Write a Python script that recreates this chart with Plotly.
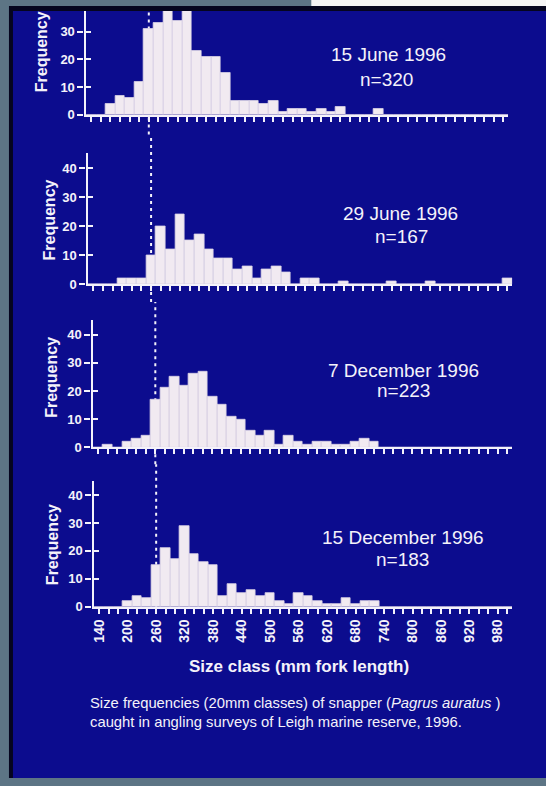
import plotly.graph_objects as go

# ---------------- data ----------------
size_classes = [140, 160, 180, 200, 220, 240, 260, 280, 300, 320,
                340, 360, 380, 400, 420, 440, 460, 480, 500, 520,
                540, 560, 580, 600, 620, 640, 660, 680, 700, 720,
                740, 760, 780, 800, 820, 840, 860, 880, 900, 920,
                940, 960, 980, 1000]

tick_values = [140, 200, 260, 320, 380, 440, 500, 560, 620, 680, 740, 800, 860, 920, 980]
tick_labels = ["140", "200", "260", "320", "380", "440", "500", "560",
               "620", "680", "740", "800", "860", "920", "980"]

freq_15jun = [0, 0, 4, 7, 6, 12, 31, 33, 39, 34,
              38, 23, 21, 21, 15, 5, 5, 5, 4, 5,
              1, 2, 2, 1, 2, 1, 3, 0, 0, 0,
              2, 0, 0, 0, 0, 0, 0, 0, 0, 0,
              0, 0, 0, 0]
freq_29jun = [0, 0, 0, 2, 2, 2, 10, 20, 12, 24,
              15, 17, 12, 9, 9, 5, 6, 2, 5, 6,
              4, 0, 2, 2, 0, 0, 1, 0, 0, 0,
              0, 1, 0, 0, 0, 1, 0, 0, 0, 0,
              0, 0, 0, 2]
freq_7dec = [0, 1, 0, 2, 3, 4, 17, 21, 25, 22,
             26, 27, 18, 15, 11, 10, 6, 4, 6, 1,
             4, 2, 1, 2, 2, 1, 1, 2, 3, 2,
             0, 0, 0, 0, 0, 0, 0, 0, 0, 0,
             0, 0, 0, 0]
freq_15dec = [0, 0, 0, 2, 4, 3, 15, 21, 17, 29,
              19, 16, 15, 4, 8, 5, 6, 4, 5, 2,
              1, 5, 4, 2, 1, 1, 3, 1, 2, 2,
              0, 0, 0, 0, 0, 0, 0, 0, 0, 0,
              0, 0, 0, 0]

series = [freq_15jun, freq_29jun, freq_7dec, freq_15dec]
survey_dates = ["15 June 1996", "29 June 1996", "7 December 1996", "15 December 1996"]
sample_sizes = ["n=320", "n=167", "n=223", "n=183"]
y_ticks = [0, 10, 20, 30, 40]
legal_size = 260

# ---------------- geometry (pixels of the 546x786 page) ----------------
W, H = 546, 786
def fx(p):
    return p / W
def fy(p):
    return 1 - p / H

panels = [
    dict(left=83, right=508, base=116, top=11, ymax=37.5,
         lab=(388, 55), n=(386, 80), freq=(39, 52), seg=(11, 136)),
    dict(left=85, right=512, base=287, top=155, ymax=45.1,
         lab=(400, 216), n=(401, 239), freq=(47, 222), seg=(136, 305)),
    dict(left=90, right=512, base=452, top=323, ymax=45.3,
         lab=(403, 374), n=(403, 395), freq=(48, 381), seg=(305, 469)),
    dict(left=91, right=512, base=613, top=486, ymax=45.0,
         lab=(402, 543), n=(402, 565), freq=(50, 550), seg=(469, 613)),
]

WHITE = "#f4f2fa"
BAR = "#f1eaf1"
BAR_EDGE = "#d9d2e4"
BLUE = "#0c0c8e"
FONT = "Liberation Sans, Arial, sans-serif"

fig = go.Figure()
layout = dict(
    width=W, height=H, autosize=False,
    margin=dict(l=0, r=0, t=0, b=0),
    paper_bgcolor="#5d7585",
    plot_bgcolor="rgba(0,0,0,0)",
    showlegend=False,
    font=dict(family=FONT, color=WHITE),
    bargap=0,
)

shapes = [
    dict(type="rect", xref="paper", yref="paper", x0=fx(310), x1=1, y0=fy(7), y1=1,
         fillcolor="#f4f4f4", line=dict(width=0), layer="below"),
    dict(type="rect", xref="paper", yref="paper", x0=fx(6), x1=1, y0=0, y1=fy(6),
         fillcolor="#05051e", line=dict(width=0), layer="below"),
    dict(type="rect", xref="paper", yref="paper", x0=fx(10), x1=1, y0=0, y1=fy(11),
         fillcolor=BLUE, line=dict(width=0), layer="below"),
]
annotations = []

for i, (p, vals) in enumerate(zip(panels, series)):
    k = i + 1
    xid = "x" if k == 1 else f"x{k}"
    yid = "y" if k == 1 else f"y{k}"
    yov = f"y{k + 4}"
    xname = "xaxis" if k == 1 else f"xaxis{k}"
    yname = "yaxis" if k == 1 else f"yaxis{k}"

    fig.add_trace(go.Bar(
        x=size_classes, y=vals, width=20, xaxis=xid, yaxis=yid,
        marker=dict(color=BAR, line=dict(color=BAR_EDGE, width=0.8)),
        hoverinfo="x+y",
    ))
    # empty helper trace to carry the inner half of the crossing y ticks
    fig.add_trace(go.Scatter(x=[None], y=[None], xaxis=xid, yaxis=yov,
                             showlegend=False, hoverinfo="skip"))

    ydom = [fy(p["base"]), fy(p["top"])]
    layout[xname] = dict(
        domain=[fx(p["left"]), fx(p["right"])], range=[128, 1010], anchor=yid,
        showline=True, linecolor=WHITE, linewidth=2.2,
        showgrid=False, zeroline=False,
        tickmode="array", tickvals=tick_values, ticktext=tick_labels,
        ticks="outside", ticklen=5, tickwidth=1.6, tickcolor=WHITE,
        minor=dict(dtick=20, tick0=140, ticks="outside", ticklen=5,
                   tickwidth=1.6, tickcolor=WHITE),
        showticklabels=(k == 4), tickangle=-90,
        tickfont=dict(family=FONT, size=14, color=WHITE, weight="bold"),
        fixedrange=True,
    )
    layout[yname] = dict(
        domain=ydom, range=[0, p["ymax"]], anchor=xid,
        showline=True, linecolor=WHITE, linewidth=2.2,
        showgrid=False, zeroline=False,
        tickmode="array", tickvals=y_ticks,
        ticks="outside", ticklen=6, tickwidth=2, tickcolor=WHITE,
        tickfont=dict(family=FONT, size=13, color=WHITE, weight="bold"),
        fixedrange=True,
    )
    layout[f"yaxis{k + 4}"] = dict(
        overlaying=yid, anchor=xid, range=[0, p["ymax"]], side="left",
        showline=False, showgrid=False, zeroline=False,
        tickmode="array", tickvals=y_ticks[1:],
        ticks="inside", ticklen=5, tickwidth=2, tickcolor=WHITE,
        showticklabels=False, fixedrange=True,
    )

    shapes.append(dict(
        type="line", xref=xid, yref="paper", x0=legal_size, x1=legal_size,
        y0=fy(p["seg"][1]), y1=fy(p["seg"][0]),
        line=dict(color=WHITE, width=2, dash="3px,4px"), layer="below",
    ))

    annotations.append(dict(
        x=fx(p["lab"][0]), y=fy(p["lab"][1]), xref="paper", yref="paper",
        text=survey_dates[i], showarrow=False, xanchor="center", yanchor="middle",
        font=dict(family=FONT, size=19, color=WHITE),
    ))
    annotations.append(dict(
        x=fx(p["n"][0]), y=fy(p["n"][1]), xref="paper", yref="paper",
        text=sample_sizes[i], showarrow=False, xanchor="center", yanchor="middle",
        font=dict(family=FONT, size=19, color=WHITE),
    ))
    annotations.append(dict(
        x=fx(p["freq"][0]), y=fy(p["freq"][1]), xref="paper", yref="paper",
        text="Frequency", showarrow=False, textangle=-90,
        xanchor="center", yanchor="middle",
        font=dict(family=FONT, size=16, color=WHITE, weight="bold"),
    ))

annotations.append(dict(
    x=fx(298), y=fy(673), xref="paper", yref="paper",
    text="Size class (mm fork length)", showarrow=False,
    xanchor="center", yanchor="middle",
    font=dict(family=FONT, size=17, color=WHITE, weight="bold"),
))
annotations.append(dict(
    x=fx(85), y=fy(700), xref="paper", yref="paper",
    text="Size frequencies (20mm classes) of snapper (<i>Pagrus auratus</i> )<br>"
         "caught in angling surveys of Leigh marine reserve, 1996.",
    showarrow=False, xanchor="left", yanchor="top", align="left",
    font=dict(family=FONT, size=14.8, color=WHITE),
))

layout["shapes"] = shapes
layout["annotations"] = annotations
fig.update_layout(**layout)

fig.write_html(
    "out.html",
    config={"displayModeBar": False},
    post_script="document.body.style.margin='0';document.body.style.overflow='hidden';",
)
